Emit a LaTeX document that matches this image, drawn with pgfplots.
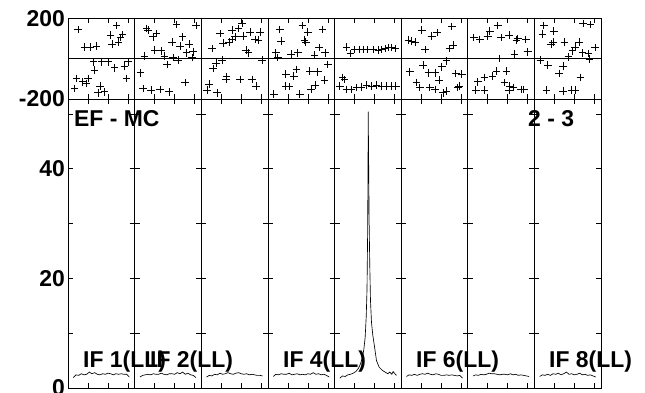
\documentclass[border=0pt]{standalone}
\usepackage{fontspec}
\setmainfont{Liberation Sans}
\usepackage{pgfplots}
\pgfplotsset{compat=1.18}

\newcommand{\lbl}{\fontsize{23}{26}\selectfont\bfseries}

\pgfplotsset{
  panel/.style={
    scale only axis, width=533bp, xmin=0, xmax=8,
    anchor=south west,
    axis line style={line width=0.8bp},
    tick align=inside, major tick length=5bp,
    tick style={black, line width=0.6bp},
    xtick={0.3,0.6,0.9,1.3,1.6,1.9,2.3,2.6,2.9,3.3,3.6,3.9,4.3,4.6,4.9,5.3,5.6,5.9,6.3,6.6,6.9,7.3,7.6,7.9},
    xticklabels={},
    extra x ticks={1,2,3,4,5,6,7},
    extra x tick labels={},
    extra x tick style={grid=major, major tick length=0pt},
    grid style={black, line width=0.7bp},
    yticklabel style={font=\lbl, inner sep=3bp},
  },
  dots/.style={only marks, mark=+, mark size=3.8bp, mark options={line width=0.75bp}, black},
  spec/.style={black, line width=0.65bp, mark=none},
}

\begin{document}
\begin{tikzpicture}
\useasboundingbox (0bp,0bp) rectangle (645bp,393bp);

% phase panel
\begin{axis}[panel, at={(68bp,294bp)}, height=80.7bp,
  ymin=-200, ymax=200, ytick={-200,200}, yticklabels={-200,200},
  extra y ticks={0}, extra y tick labels={},
  extra y tick style={grid=major, major tick length=0pt}]
\addplot[dots] coordinates {
 (0.15,144)(0.73,165)(0.64,116)(0.82,119)(0.79,105)(0.76,83)(0.66,72)(0.25,58)(0.34,58)(0.43,62)
 (0.38,-16)(0.50,-16)(0.60,-16)(0.70,-45)(0.85,-36)(0.90,-16)(0.40,-57)(0.13,-98)(0.22,-115)(0.30,-98)
 (0.27,-123)(0.10,-147)(0.88,-98)(0.48,-136)(0.45,-169)(0.55,-164)
};
\addplot[dots] coordinates {
 (1.18,149)(1.20,141)(1.33,124)(1.28,108)(1.63,170)(1.92,165)(1.72,108)(1.56,83)(1.68,63)(1.82,72)
 (1.30,42)(1.40,39)(1.45,12)(1.78,29)(1.88,34)(1.86,6)(1.15,12)(1.58,6)(1.65,-7)(1.49,-29)
 (1.09,-70)(1.76,-119)(1.13,-147)(1.25,-156)(1.38,-152)(1.52,-164)
};
\addplot[dots] coordinates {
 (2.16,50)(2.28,124)(2.46,141)(2.56,149)(2.61,174)(2.51,108)(2.63,111)(2.73,131)(2.88,131)(2.81,95)
 (2.86,91)(2.33,78)(2.42,83)(2.46,95)(2.67,42)(2.71,29)(2.91,-7)(2.31,-7)(2.22,-21)(2.18,-49)
 (2.38,-90)(2.37,-103)(2.58,-103)(2.76,-103)(2.82,-136)(2.12,-126)(2.09,-156)(2.24,-169)
};
\addplot[dots] coordinates {
 (3.18,144)(3.20,88)(3.52,165)(3.60,131)(3.82,144)(3.55,91)(3.57,83)(3.12,29)(3.15,6)(3.35,22)
 (3.45,29)(3.70,17)(3.77,55)(3.86,29)(3.90,-29)(3.43,-53)(3.27,-77)(3.39,-86)(3.63,-61)(3.75,-65)
 (3.85,-106)(3.71,-131)(3.65,-152)(3.27,-136)(3.32,-139)(3.09,-175)(3.48,-175)
};
\addplot[dots] coordinates {
 (4.18,58)(4.24,26)(4.30,45)(4.37,45)(4.43,45)(4.49,45)(4.58,45)(4.66,42)(4.71,45)(4.76,50)
 (4.81,55)(4.86,55)(4.91,50)
 (4.08,-136)(4.12,-93)(4.15,-103)(4.18,-152)(4.25,-152)(4.33,-143)(4.40,-140)(4.48,-131)(4.56,-136)
 (4.63,-131)(4.71,-136)(4.78,-136)(4.86,-136)(4.92,-136)
};
\addplot[dots] coordinates {
 (5.11,91)(5.16,88)(5.21,83)(5.31,141)(5.46,111)(5.54,129)(5.76,160)(5.36,45)(5.73,50)(5.78,67)
 (5.68,-11)(5.13,-65)(5.33,-32)(5.41,-70)(5.51,-70)(5.61,-40)(5.57,-106)(5.82,-73)(5.91,-77)(5.23,-119)
 (5.28,-143)(5.43,-143)(5.51,-152)(5.63,-169)(5.68,-160)(5.85,-143)(5.87,-136)
};
\addplot[dots] coordinates {
 (6.09,105)(6.18,95)(6.30,111)(6.33,137)(6.45,165)(6.50,105)(6.62,116)(6.73,91)(6.75,99)(6.87,95)
 (6.90,34)(6.70,22)(6.48,1)(6.58,-61)(6.43,-61)(6.37,-86)(6.25,-93)(6.15,-115)(6.12,-156)(6.25,-156)
 (6.55,-119)(6.63,-136)(6.68,-143)(6.62,-156)(6.80,-152)(6.84,-152)
};
\addplot[dots] coordinates {
 (7.14,165)(7.29,137)(7.12,121)(7.73,174)(7.84,170)(7.28,83)(7.25,72)(7.45,83)(7.67,83)(7.61,58)
 (7.57,39)(7.91,55)(7.72,29)(7.81,26)(7.51,9)(7.83,-3)(7.09,-7)(7.20,-32)(7.43,-37)(7.37,-73)
 (7.69,-93)(7.18,-156)(7.43,-160)(7.56,-156)(7.61,-156)
};
\end{axis}

% amplitude panel
\begin{axis}[panel, at={(68bp,5bp)}, height=289bp,
  ymin=0, ymax=52.7, ytick={0,10,20,30,40,50}, yticklabels={0,,20,,40,}]
\pgfplotsinvokeforeach{1,...,7}{
  \draw[line width=0.6bp] (axis cs:#1,10) ++(-5bp,0bp) -- ++(10bp,0bp)
    (axis cs:#1,20) ++(-5bp,0bp) -- ++(10bp,0bp)
    (axis cs:#1,30) ++(-5bp,0bp) -- ++(10bp,0bp)
    (axis cs:#1,40) ++(-5bp,0bp) -- ++(10bp,0bp)
    (axis cs:#1,50) ++(-5bp,0bp) -- ++(10bp,0bp);
}
\addplot[spec] coordinates {
 (0.08,1.9)(0.12,2.4)(0.16,2.3)(0.20,2.6)(0.24,2.4)(0.28,2.5)(0.32,2.9)(0.36,2.6)(0.40,2.8)(0.44,2.5)
 (0.48,2.4)(0.52,2.6)(0.56,2.5)(0.60,2.7)(0.64,2.6)(0.68,2.4)(0.72,2.6)(0.76,2.5)(0.80,2.6)(0.84,2.5)
 (0.88,2.5)(0.92,2.0)
};
\addplot[spec] coordinates {
 (1.08,2.0)(1.12,2.3)(1.16,2.4)(1.20,2.5)(1.24,2.4)(1.28,2.6)(1.32,2.5)(1.36,2.5)(1.40,2.7)(1.44,2.5)
 (1.48,2.4)(1.52,2.6)(1.56,2.6)(1.60,2.5)(1.64,2.8)(1.68,2.6)(1.72,2.9)(1.76,2.5)(1.80,2.7)(1.84,2.4)
 (1.88,2.3)(1.92,1.9)
};
\addplot[spec] coordinates {
 (2.08,2.0)(2.12,2.3)(2.16,2.2)(2.20,2.5)(2.24,2.4)(2.28,2.7)(2.32,2.5)(2.36,2.6)(2.40,2.8)(2.44,2.6)
 (2.48,2.5)(2.52,2.7)(2.56,2.8)(2.60,2.6)(2.64,2.5)(2.68,2.6)(2.72,2.4)(2.76,2.5)(2.80,2.4)(2.84,2.3)
 (2.88,2.3)(2.92,2.2)
};
\addplot[spec] coordinates {
 (3.08,2.1)(3.12,2.5)(3.16,2.4)(3.20,2.6)(3.24,2.5)(3.28,2.5)(3.32,2.7)(3.36,2.4)(3.40,2.5)(3.44,2.6)
 (3.48,2.4)(3.52,2.5)(3.56,2.4)(3.60,2.6)(3.64,2.5)(3.68,2.8)(3.72,2.5)(3.76,2.6)(3.80,2.4)(3.84,2.5)
 (3.88,2.3)(3.92,2.0)
};
\addplot[spec] coordinates {
 (4.08,1.8)(4.12,2.2)(4.16,2.1)(4.20,2.4)(4.24,2.5)(4.28,2.7)(4.32,3.0)(4.36,3.6)(4.39,4.4)(4.42,5.6)
 (4.44,7.0)(4.46,9.2)(4.476,13)(4.488,18)(4.497,28)(4.503,40)(4.506,50.4)(4.512,42)(4.52,30)(4.53,22)
 (4.54,16)(4.555,12)(4.575,9.6)(4.60,7.6)(4.63,5.0)(4.67,3.8)(4.72,3.2)(4.76,2.9)(4.80,2.6)(4.83,2.9)
 (4.86,2.5)(4.88,3.0)(4.90,2.7)(4.93,2.3)
};
\addplot[spec] coordinates {
 (5.08,2.1)(5.12,2.4)(5.16,2.3)(5.20,2.5)(5.24,2.3)(5.28,2.5)(5.32,2.6)(5.36,2.5)(5.40,2.7)(5.44,2.5)
 (5.48,2.4)(5.52,2.6)(5.56,2.5)(5.60,2.3)(5.64,2.3)(5.68,2.4)(5.72,2.3)(5.76,2.4)(5.80,2.3)(5.84,2.2)
 (5.88,2.3)(5.92,1.8)
};
\addplot[spec] coordinates {
 (6.08,2.2)(6.12,2.4)(6.16,2.3)(6.20,2.5)(6.24,2.4)(6.28,2.5)(6.32,2.7)(6.36,2.6)(6.40,2.6)(6.44,2.5)
 (6.48,2.4)(6.52,2.5)(6.56,2.5)(6.60,2.4)(6.64,2.6)(6.68,2.4)(6.72,2.5)(6.76,2.3)(6.80,2.4)(6.84,2.3)
 (6.88,2.2)(6.92,2.1)
};
\addplot[spec] coordinates {
 (7.08,2.1)(7.12,2.4)(7.16,2.3)(7.20,2.5)(7.24,2.3)(7.28,2.6)(7.32,2.5)(7.36,2.7)(7.40,2.4)(7.44,2.6)
 (7.48,2.9)(7.52,2.5)(7.56,2.6)(7.60,2.4)(7.64,2.5)(7.68,2.7)(7.72,2.4)(7.76,2.5)(7.80,2.3)(7.84,2.4)
 (7.88,2.2)(7.92,2.0)
};
\end{axis}

\node[anchor=base west, inner sep=0pt, font=\lbl] at (74bp,266bp) {EF - MC};
\node[anchor=base west, inner sep=0pt, font=\lbl] at (528bp,266bp) {2 - 3};
\node[anchor=base west, inner sep=0pt, font=\lbl] at (83bp,26bp) {IF 1(LL)};
\node[anchor=base west, inner sep=0pt, font=\lbl] at (150bp,26bp) {IF 2(LL)};
\node[anchor=base west, inner sep=0pt, font=\lbl] at (283bp,26bp) {IF 4(LL)};
\node[anchor=base west, inner sep=0pt, font=\lbl] at (416bp,26bp) {IF 6(LL)};
\node[anchor=base west, inner sep=0pt, font=\lbl] at (549bp,26bp) {IF 8(LL)};
\end{tikzpicture}
\end{document}
